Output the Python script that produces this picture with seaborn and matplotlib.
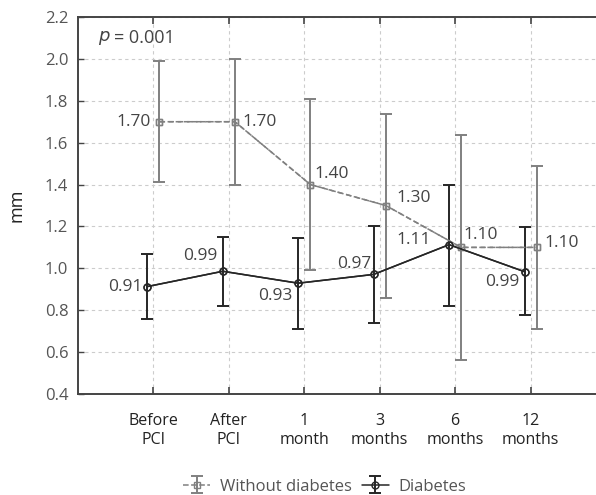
import matplotlib
matplotlib.use("Agg")
import matplotlib.pyplot as plt
import seaborn as sns
import numpy as np
import pandas as pd

categories = ["Before\nPCI", "After\nPCI", "1\nmonth", "3\nmonths", "6\nmonths", "12\nmonths"]
series_names = ["Without diabetes", "Diabetes"]

nodiab_mean = [1.70, 1.70, 1.40, 1.30, 1.10, 1.10]
nodiab_low = [1.41, 1.40, 0.99, 0.86, 0.56, 0.71]
nodiab_high = [1.99, 2.00, 1.81, 1.735, 1.635, 1.49]
nodiab_labels = ["1.70", "1.70", "1.40", "1.30", "1.10", "1.10"]

diab_mean = [0.913, 0.986, 0.929, 0.971, 1.113, 0.984]
diab_low = [0.76, 0.82, 0.71, 0.74, 0.82, 0.775]
diab_high = [1.07, 1.15, 1.145, 1.20, 1.40, 1.195]
diab_labels = ["0.91", "0.99", "0.93", "0.97", "1.11", "0.99"]

p_text = "= 0.001"
y_label = "mm"

sns.set_theme(style="white")
plt.rcParams["font.family"] = ["Open Sans", "DejaVu Sans"]

fig = plt.figure(figsize=(5.96, 4.95), dpi=100)
ax = fig.add_axes([78 / 596, 101 / 495, 528 / 596, 377 / 495])

c_no = "#808080"
c_d = "#262626"
off = 0.08
idx = np.arange(len(categories))

df = pd.DataFrame({
    "x": np.concatenate([idx + off, idx - off]),
    "y": nodiab_mean + diab_mean,
    "group": [series_names[0]] * len(idx) + [series_names[1]] * len(idx),
})

sns.lineplot(data=df, x="x", y="y", hue="group", style="group",
             palette={series_names[0]: c_no, series_names[1]: c_d},
             dashes={series_names[0]: (3.5, 2.5), series_names[1]: ""},
             markers={series_names[0]: "s", series_names[1]: "o"},
             markersize=5, markerfacecolor="none", markeredgewidth=1.0,
             linewidth=1.1, legend=False, ax=ax, zorder=3)

for ln, col in zip(ax.lines, [c_no, c_d]):
    ln.set_markeredgecolor(col)
    ln.set_markerfacecolor("none")

m_no = np.array(nodiab_mean)
m_d = np.array(diab_mean)
e1 = ax.errorbar(idx + off, m_no,
                 yerr=[m_no - np.array(nodiab_low), np.array(nodiab_high) - m_no],
                 fmt="s", ms=5, mfc="none", mec=c_no, color=c_no, ecolor=c_no,
                 elinewidth=1.4, capsize=4, capthick=1.4, ls="--", lw=1.1,
                 label=series_names[0], zorder=2)
e2 = ax.errorbar(idx - off, m_d,
                 yerr=[m_d - np.array(diab_low), np.array(diab_high) - m_d],
                 fmt="o", ms=5, mfc="none", mec=c_d, color=c_d, ecolor=c_d,
                 elinewidth=1.4, capsize=4, capthick=1.4, ls="-", lw=1.1,
                 label=series_names[1], zorder=2)

no_offsets = [(-9, 0, "right"), (8, 0, "left"), (4, 11, "left"),
              (11, 8, "left"), (2, 12, "left"), (8, 4, "left")]
d_offsets = [(-5, 0, "right"), (-5, 15, "right"), (-6, -13, "right"),
             (-2, 10, "right"), (-18, 5, "right"), (-5, -10, "right")]
for i, (lab, (dx, dy, ha)) in enumerate(zip(nodiab_labels, no_offsets)):
    ax.annotate(lab, (idx[i] + off, m_no[i]), xytext=(dx, dy),
                textcoords="offset pixels", ha=ha, va="center",
                fontsize=12.5, color="#444444")
for i, (lab, (dx, dy, ha)) in enumerate(zip(diab_labels, d_offsets)):
    ax.annotate(lab, (idx[i] - off, m_d[i]), xytext=(dx, dy),
                textcoords="offset pixels", ha=ha, va="center",
                fontsize=12.5, color="#444444")

ax.set_xlim(-1, len(categories))
ax.set_ylim(0.4, 2.2)
ax.set_xticks(idx)
ax.set_xticklabels(categories, fontsize=11.5, color="#222222", linespacing=1.25)
ax.set_yticks(np.arange(0.4, 2.21, 0.2))
ax.set_yticklabels([f"{v:.1f}" for v in np.arange(0.4, 2.21, 0.2)],
                   fontsize=12, color="#555555")
ax.set_xlabel("")
ax.set_ylabel(y_label, fontsize=13, color="#222222", labelpad=14)

ax.grid(True, color="#cccccc", linestyle=(0, (3, 3)), linewidth=0.8)
ax.set_axisbelow(True)
for s in ax.spines.values():
    s.set_color("#444444")
    s.set_linewidth(1.4)
ax.tick_params(axis="x", direction="in", length=5, width=1.2, color="#444444",
               top=True, bottom=True, pad=14)
ax.tick_params(axis="y", direction="in", length=4, width=1.0, color="#444444",
               left=True, right=False, pad=7)

ax.text(0.038, 0.944, "$p$", transform=ax.transAxes, fontsize=13,
        color="#444444", va="center", ha="left")
ax.text(0.068, 0.944, p_text, transform=ax.transAxes, fontsize=13,
        color="#444444", va="center", ha="left")

leg = fig.legend(handles=[e1, e2], labels=series_names, loc="center",
                 bbox_to_anchor=(0.545, 0.017), ncol=2, frameon=False,
                 fontsize=12, handlelength=1.6, columnspacing=0.6,
                 handletextpad=0.6)
for t in leg.get_texts():
    t.set_color("#555555")

fig.savefig("out.png", dpi=100)
